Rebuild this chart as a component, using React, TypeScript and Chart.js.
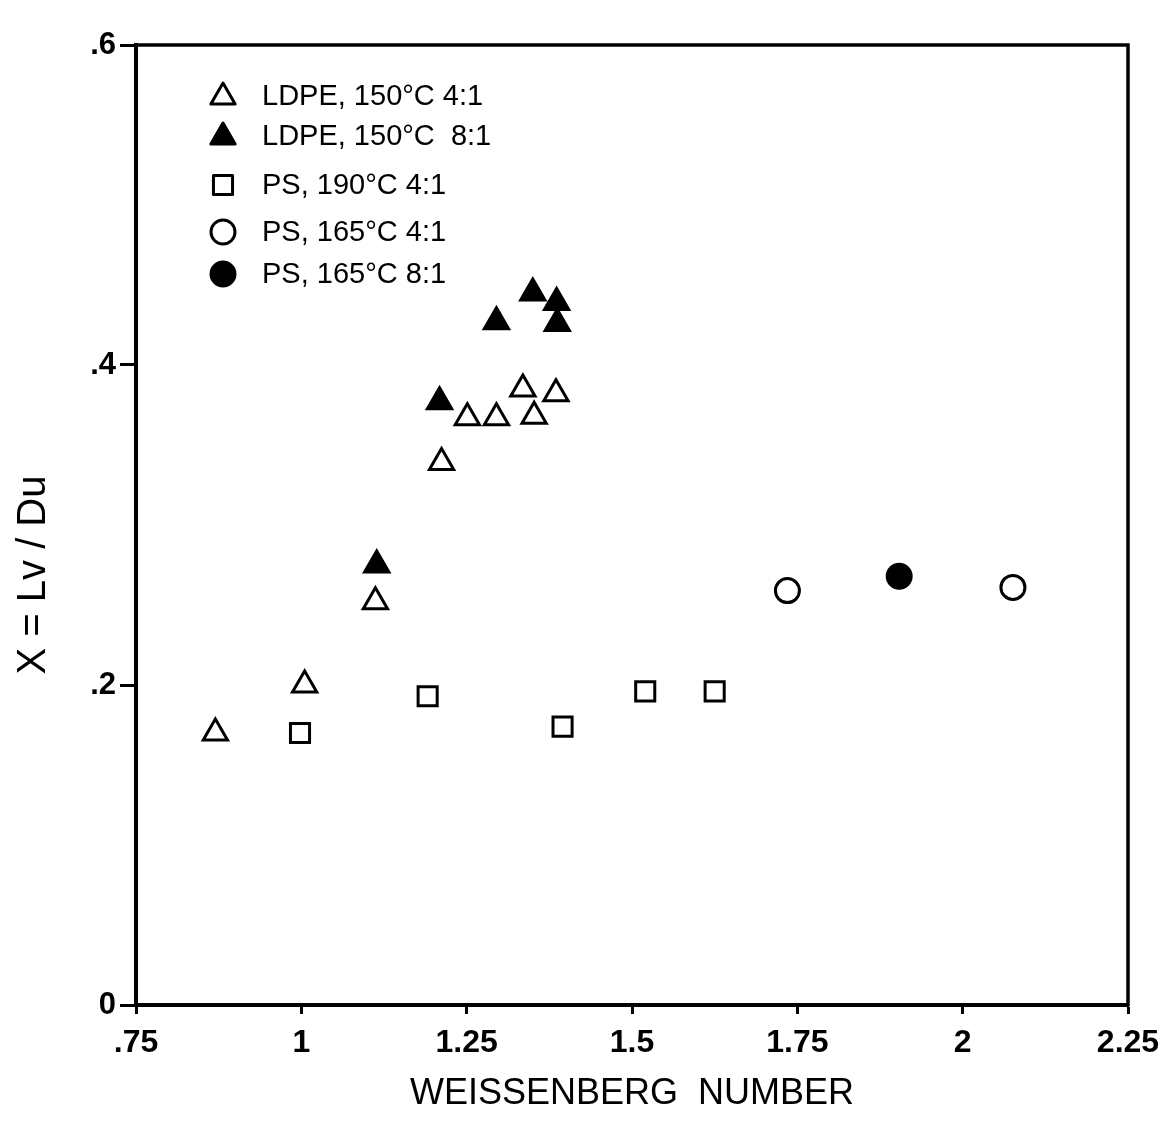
import React, { useEffect, useRef } from 'react';
import { Chart, registerables } from 'chart.js';

Chart.register(...registerables);

// Axis ticks
const xTickValues = [0.75, 1, 1.25, 1.5, 1.75, 2, 2.25];
const xTickLabels = ['.75', '1', '1.25', '1.5', '1.75', '2', '2.25'];
const yTickValues = [0, 0.2, 0.4, 0.6];
const yTickLabels = ['0', '.2', '.4', '.6'];

// Series
const ldpe4X = [0.87, 1.005, 1.112, 1.212, 1.251, 1.295, 1.335, 1.352, 1.385];
const ldpe4Y = [0.17, 0.2, 0.252, 0.339, 0.367, 0.367, 0.385, 0.368, 0.382];

const ldpe8X = [1.114, 1.209, 1.295, 1.35, 1.386, 1.387];
const ldpe8Y = [0.275, 0.377, 0.427, 0.445, 0.439, 0.426];

const ps190X = [0.998, 1.191, 1.395, 1.52, 1.625];
const ps190Y = [0.17, 0.193, 0.174, 0.196, 0.196];

const ps165aX = [1.735, 2.076];
const ps165aY = [0.259, 0.261];

const ps165bX = [1.904];
const ps165bY = [0.268];

const seriesLabels = [
  'LDPE, 150°C 4:1',
  'LDPE, 150°C  8:1',
  'PS, 190°C 4:1',
  'PS, 165°C 4:1',
  'PS, 165°C 8:1',
];

const xTitle = 'WEISSENBERG  NUMBER';
const yTitle = 'X = Lv / Du';

const FONT = "'Liberation Sans', Arial, sans-serif";

const toPoints = (xs: number[], ys: number[]) => xs.map((x, i) => ({ x, y: ys[i] }));

type Marker = { style: string; filled: boolean; r: number };
const markers: Marker[] = [
  { style: 'triangle', filled: false, r: 14 },
  { style: 'triangle', filled: true, r: 14 },
  { style: 'rect', filled: false, r: 13.5 },
  { style: 'circle', filled: false, r: 12 },
  { style: 'circle', filled: true, r: 12 },
];

function drawMarker(ctx: CanvasRenderingContext2D, m: Marker, x: number, y: number) {
  ctx.save();
  ctx.lineWidth = 3;
  ctx.strokeStyle = '#000';
  ctx.fillStyle = m.filled ? '#000' : '#fff';
  ctx.lineJoin = 'round';
  ctx.beginPath();
  if (m.style === 'triangle') {
    const r = m.r;
    ctx.moveTo(x, y - r);
    ctx.lineTo(x + Math.sin((2 * Math.PI) / 3) * r, y + r / 2);
    ctx.lineTo(x - Math.sin((2 * Math.PI) / 3) * r, y + r / 2);
    ctx.closePath();
  } else if (m.style === 'rect') {
    const s = Math.SQRT1_2 * m.r;
    ctx.rect(x - s, y - s, 2 * s, 2 * s);
  } else {
    ctx.arc(x, y, m.r, 0, Math.PI * 2);
  }
  ctx.fill();
  ctx.stroke();
  ctx.restore();
}

const legendMarkerX = 223;
const legendTextX = 262;
const legendRowsY = [96, 136, 185, 232, 274];

const customPlugin = {
  id: 'customDecor',
  beforeDraw(chart: any) {
    const ctx = chart.ctx;
    ctx.save();
    ctx.fillStyle = '#fff';
    ctx.fillRect(0, 0, chart.width, chart.height);
    ctx.restore();
  },
  afterDraw(chart: any) {
    const ctx: CanvasRenderingContext2D = chart.ctx;
    const { left, right, top, bottom } = chart.chartArea;
    ctx.save();
    // top and right frame
    ctx.strokeStyle = '#000';
    ctx.lineWidth = 3.5;
    ctx.beginPath();
    ctx.moveTo(left - 1, top);
    ctx.lineTo(right, top);
    ctx.lineTo(right, bottom + 1);
    ctx.stroke();

    // legend
    seriesLabels.forEach((label, i) => {
      drawMarker(ctx, markers[i], legendMarkerX, legendRowsY[i] + (markers[i].style === 'triangle' ? 1 : 0));
      ctx.fillStyle = '#000';
      ctx.font = `29px ${FONT}`;
      ctx.textAlign = 'left';
      ctx.textBaseline = 'middle';
      ctx.fillText(label, legendTextX, legendRowsY[i] + 1);
    });

    // y-axis title
    ctx.translate(34, 575);
    ctx.rotate(-Math.PI / 2);
    ctx.font = `40px ${FONT}`;
    ctx.textAlign = 'center';
    ctx.textBaseline = 'middle';
    ctx.fillStyle = '#000';
    ctx.fillText(yTitle, 0, 0);
    ctx.restore();
  },
};

function makeDataset(label: string, xs: number[], ys: number[], m: Marker) {
  return {
    label,
    data: toPoints(xs, ys),
    pointStyle: m.style,
    pointRadius: m.r,
    pointHoverRadius: m.r,
    borderWidth: 3,
    borderColor: '#000',
    backgroundColor: m.filled ? '#000' : '#fff',
    showLine: false,
  };
}

export default function App() {
  const canvasRef = useRef<HTMLCanvasElement | null>(null);

  useEffect(() => {
    if (!canvasRef.current) return;
    const chart = new Chart(canvasRef.current, {
      type: 'scatter',
      data: {
        datasets: [
          makeDataset(seriesLabels[0], ldpe4X, ldpe4Y, markers[0]),
          makeDataset(seriesLabels[1], ldpe8X, ldpe8Y, markers[1]),
          makeDataset(seriesLabels[2], ps190X, ps190Y, markers[2]),
          makeDataset(seriesLabels[3], ps165aX, ps165aY, markers[3]),
          makeDataset(seriesLabels[4], ps165bX, ps165bY, markers[4]),
        ] as any,
      },
      options: {
        animation: false,
        responsive: false,
        events: [],
        layout: { padding: { left: 0, top: 45, right: 42, bottom: 0 } },
        plugins: {
          legend: { display: false },
          tooltip: { enabled: false },
        },
        scales: {
          x: {
            type: 'linear',
            min: 0.75,
            max: 2.25,
            afterBuildTicks: (scale: any) => {
              scale.ticks = xTickValues.map((v) => ({ value: v }));
            },
            afterFit: (scale: any) => {
              scale.height = 131;
            },
            ticks: {
              callback: (_v: any, i: number) => xTickLabels[i],
              color: '#000',
              font: { family: FONT, size: 32, weight: 'bold' },
              padding: 10,
              maxRotation: 0,
              autoSkip: false,
            },
            grid: {
              drawOnChartArea: false,
              drawTicks: true,
              tickLength: 9,
              tickWidth: 3,
              tickColor: '#000',
              color: '#000',
            },
            border: { display: true, color: '#000', width: 4 },
            title: {
              display: true,
              text: xTitle,
              color: '#000',
              font: { family: FONT, size: 36 },
              padding: { top: 0, bottom: 20 },
            },
          },
          y: {
            type: 'linear',
            min: 0,
            max: 0.6,
            afterBuildTicks: (scale: any) => {
              scale.ticks = yTickValues.map((v) => ({ value: v }));
            },
            afterFit: (scale: any) => {
              scale.width = 136;
            },
            ticks: {
              callback: (_v: any, i: number) => yTickLabels[i],
              color: '#000',
              font: { family: FONT, size: 31, weight: 'bold' },
              padding: 4,
              autoSkip: false,
            },
            grid: {
              drawOnChartArea: false,
              drawTicks: true,
              tickLength: 16,
              tickWidth: 3,
              tickColor: '#000',
              color: '#000',
            },
            border: { display: true, color: '#000', width: 4 },
          },
        },
      } as any,
      plugins: [customPlugin],
    });
    return () => chart.destroy();
  }, []);

  return (
    <div style={{ position: 'fixed', left: 0, top: 0, width: 1170, height: 1136, background: '#fff' }}>
      <canvas ref={canvasRef} width={1170} height={1136} style={{ display: 'block', width: 1170, height: 1136 }} />
    </div>
  );
}
